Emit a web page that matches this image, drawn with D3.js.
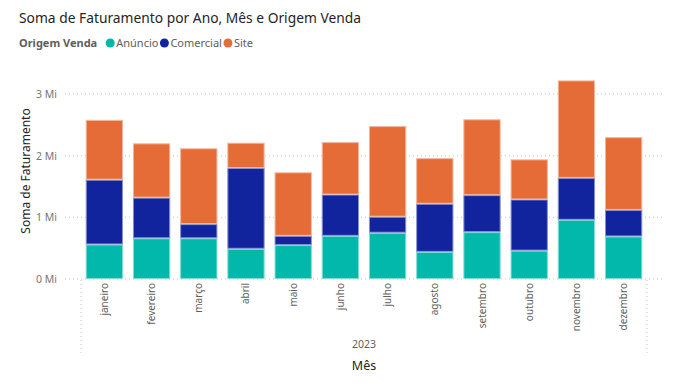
<!DOCTYPE html>
<html>
<head>
<meta charset="utf-8">
<script src="https://cdn.jsdelivr.net/npm/d3@7"></script>
<style>
  body { margin: 0; background: #fff; }
  svg { font-family: "Segoe UI", "Noto Sans", sans-serif; }
</style>
</head>
<body>
<div id="chart"></div>
<script>
// valores em milhões (Mi)
const months = ['janeiro', 'fevereiro', 'março', 'abril', 'maio', 'junho', 'julho', 'agosto', 'setembro', 'outubro', 'novembro', 'dezembro'];
const seriesNames = ['Anúncio', 'Comercial', 'Site'];
const anuncio = [0.56, 0.66, 0.66, 0.49, 0.55, 0.70, 0.75, 0.44, 0.76, 0.46, 0.96, 0.69];
const comercial = [1.05, 0.66, 0.23, 1.31, 0.15, 0.67, 0.26, 0.78, 0.60, 0.83, 0.68, 0.43];
const site = [0.97, 0.88, 1.23, 0.41, 1.03, 0.85, 1.47, 0.74, 1.23, 0.65, 1.58, 1.18];
const yTicks = [0, 1, 2, 3];
const year = '2023';

const colors = { 'Anúncio': '#01B8AA', 'Comercial': '#12239E', 'Site': '#E66C37' };
const strokes = { 'Anúncio': '#80dcd4', 'Comercial': '#8891cf', 'Site': '#f3b59b' };

const W = 674, H = 385;
const svg = d3.select('#chart').append('svg').attr('width', W).attr('height', H);

// title
svg.append('text')
  .attr('x', 19).attr('y', 23)
  .attr('font-size', 13.8).attr('fill', '#252423')
  .text('Soma de Faturamento por Ano, Mês e Origem Venda');

// legend
const legend = svg.append('g').attr('transform', 'translate(19,47)');
const lt = legend.append('text').attr('font-size', 11).attr('font-weight', 'bold').attr('fill', '#605E5C').text('Origem Venda');
let lx = lt.node().getComputedTextLength() + 8;
seriesNames.forEach(function (s) {
  legend.append('circle').attr('cx', lx + 5).attr('cy', -4).attr('r', 4.5).attr('fill', colors[s]);
  const t = legend.append('text').attr('x', lx + 11).attr('font-size', 11).attr('fill', '#605E5C').text(s);
  lx += 11 + t.node().getComputedTextLength() + 1;
});

// scales
const x = d3.scaleBand().domain(months).range([81, 647]).paddingInner(0.21).paddingOuter(0.1);
const y = d3.scaleLinear().domain([0, 3]).range([279, 94]);

// gridlines
svg.append('g').selectAll('line').data(yTicks).enter().append('line')
  .attr('x1', 65).attr('x2', 662)
  .attr('y1', function (d) { return y(d); }).attr('y2', function (d) { return y(d); })
  .attr('stroke', '#c8c6c4').attr('stroke-width', 1).attr('stroke-dasharray', '1,3');

// y tick labels
svg.append('g').selectAll('text').data(yTicks).enter().append('text')
  .attr('x', 57).attr('y', function (d) { return y(d) + 4; })
  .attr('text-anchor', 'end').attr('font-size', 10.5).attr('fill', '#777')
  .text(function (d) { return d + ' Mi'; });

// y title
svg.append('text')
  .attr('transform', 'translate(30,171) rotate(-90)')
  .attr('text-anchor', 'middle').attr('font-size', 12).attr('fill', '#252423')
  .text('Soma de Faturamento');

// stacked bars
const rows = months.map(function (m, i) {
  return { mes: m, 'Anúncio': anuncio[i], 'Comercial': comercial[i], 'Site': site[i] };
});
const stack = d3.stack().keys(seriesNames)(rows);

svg.append('g').selectAll('g').data(stack).enter().append('g')
  .attr('fill', function (d) { return colors[d.key]; })
  .attr('stroke', function (d) { return strokes[d.key]; })
  .attr('stroke-width', 1)
  .selectAll('rect').data(function (d) { return d; }).enter().append('rect')
  .attr('x', function (d) { return x(d.data.mes) + 0.5; })
  .attr('width', x.bandwidth() - 1)
  .attr('y', function (d) { return y(d[1]) + 0.5; })
  .attr('height', function (d) { return Math.max(0, y(d[0]) - y(d[1]) - 1); });

// x axis dotted boundaries
[81, 647].forEach(function (xx) {
  svg.append('line').attr('x1', xx).attr('x2', xx).attr('y1', 280).attr('y2', 353)
    .attr('stroke', '#c8c6c4').attr('stroke-dasharray', '1,3');
});

// x labels
svg.append('g').selectAll('text').data(months).enter().append('text')
  .attr('transform', function (d) { return 'translate(' + (x(d) + x.bandwidth() / 2 + 3.5) + ',283) rotate(-90)'; })
  .attr('text-anchor', 'end').attr('font-size', 10).attr('fill', '#605E5C')
  .text(function (d) { return d; });

svg.append('text').attr('x', 364).attr('y', 348).attr('text-anchor', 'middle')
  .attr('font-size', 10.5).attr('fill', '#605E5C').text(year);

svg.append('text').attr('x', 364).attr('y', 370).attr('text-anchor', 'middle')
  .attr('font-size', 12.5).attr('fill', '#252423').text('Mês');
</script>
</body>
</html>
